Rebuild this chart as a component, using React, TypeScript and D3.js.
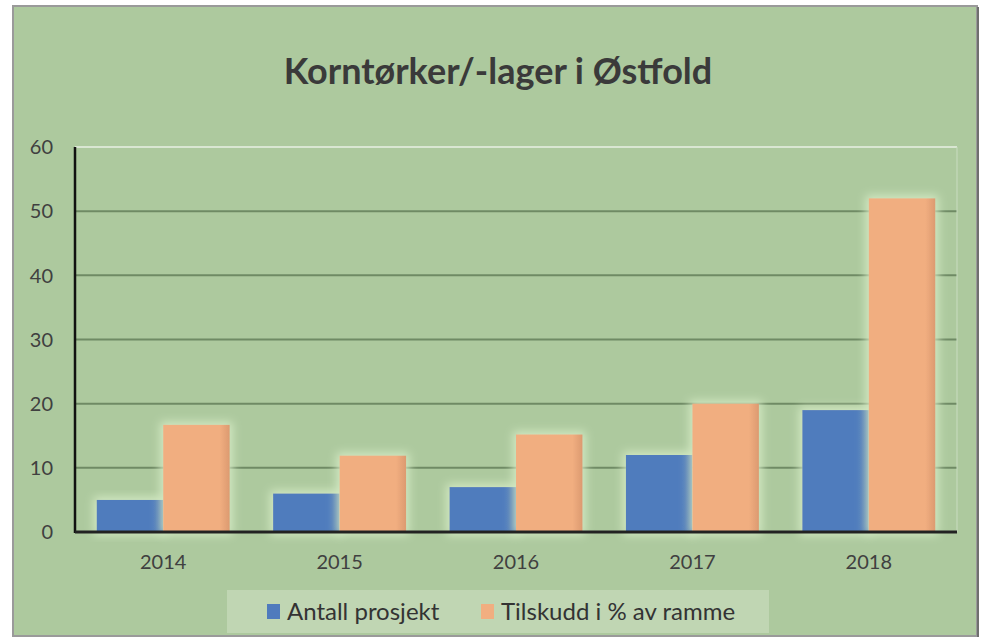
import React from 'react';
import * as d3 from 'd3';

// data
const years = ['2014', '2015', '2016', '2017', '2018'];
const antallProsjekt = [5, 6, 7, 12, 19];
const tilskuddProsent = [16.7, 11.9, 15.2, 20, 52];
const yTicks = [0, 10, 20, 30, 40, 50, 60];
const seriesNames = ['Antall prosjekt', 'Tilskudd i % av ramme'];
const seriesColors = ['#4f7bbd', '#f1ae80'];
const seriesDark = ['#4a74b2', '#dc9a70'];

const W = 984;
const H = 644;
const plot = { left: 75, right: 957, top: 147, bottom: 532 };
const font = 'Lato, "Open Sans", sans-serif';

function App() {
  const x = d3.scaleBand().domain(years).range([plot.left, plot.right]).paddingInner(0.246).paddingOuter(0.123);
  const xs = d3.scaleBand<number>().domain([0, 1]).range([0, x.bandwidth()]);
  const y = d3.scaleLinear().domain([0, 60]).range([plot.bottom, plot.top]);
  const series = [antallProsjekt, tilskuddProsent];

  return (
    <div style={{ position: 'absolute', left: 0, top: 0 }}>
      <svg width={W} height={H} style={{ display: 'block' }}>
        <defs>
          <filter id="glow" x="-30%" y="-30%" width="160%" height="160%">
            <feMorphology in="SourceAlpha" operator="dilate" radius="3" result="d" />
            <feGaussianBlur in="d" stdDeviation="5" result="b" />
            <feFlood floodColor="#d6ecc6" floodOpacity="0.9" />
            <feComposite in2="b" operator="in" result="g" />
            <feMerge>
              <feMergeNode in="g" />
              <feMergeNode in="SourceGraphic" />
            </feMerge>
          </filter>
          {seriesColors.map((c, i) => (
            <linearGradient key={i} id={'grad' + i} x1="0" x2="1" y1="0" y2="0">
              <stop offset="0" stopColor={c} />
              <stop offset="0.85" stopColor={c} />
              <stop offset="1" stopColor={seriesDark[i]} />
            </linearGradient>
          ))}
        </defs>
        <rect x={0} y={0} width={W} height={H} fill="#ffffff" />
        <rect x={13} y={6} width={964} height={630} fill="#adc99e" stroke="#9a9a9a" strokeWidth={2} />
        <line x1={978} y1={7} x2={978} y2={637} stroke="#6f6f6f" strokeWidth={2} />

        <text x={498} y={84} textAnchor="middle" fontFamily={font} fontWeight={700} fontSize={36} fill="#3a3a3a">
          Korntørker/-lager i Østfold
        </text>

        {/* grid */}
        {yTicks.map(t => (
          <line key={t} x1={plot.left} x2={plot.right} y1={y(t)} y2={y(t)}
            stroke={t === 60 ? '#d9e6d2' : '#6f8a64'} strokeWidth={2} />
        ))}
        <line x1={plot.right} x2={plot.right} y1={plot.top} y2={plot.bottom} stroke="#c9dcc0" strokeWidth={1} />
        {yTicks.map(t => (
          <text key={t} x={53} y={y(t)} dy="0.36em" textAnchor="end" fontFamily={font} fontSize={20} fill="#404040">{t}</text>
        ))}

        {/* bars */}
        {years.map((yr, i) => (
          <g key={yr}>
            {series.map((s, j) => (
              <rect key={j} x={(x(yr) as number) + (xs(j) as number)} y={y(s[i])}
                width={xs.bandwidth()} height={plot.bottom - y(s[i])}
                fill={'url(#grad' + j + ')'} filter="url(#glow)" />
            ))}
          </g>
        ))}

        {/* axes */}
        <line x1={plot.left} x2={plot.left} y1={plot.top} y2={plot.bottom + 1} stroke="#111" strokeWidth={2.5} />
        <line x1={plot.left} x2={plot.right} y1={plot.bottom} y2={plot.bottom} stroke="#222" strokeWidth={3} />
        {years.map(yr => (
          <text key={yr} x={(x(yr) as number) + x.bandwidth() / 2} y={569} textAnchor="middle" fontFamily={font} fontSize={20} fill="#404040">{yr}</text>
        ))}

        {/* legend */}
        <rect x={227} y={590} width={542} height={43} fill="#c4d9b8" opacity={0.8} />
        <rect x={267} y={604} width={13} height={15} fill={seriesColors[0]} />
        <text x={287} y={620} fontFamily={font} fontSize={24} fill="#333">{seriesNames[0]}</text>
        <rect x={481} y={604} width={13} height={15} fill={seriesColors[1]} />
        <text x={501} y={620} fontFamily={font} fontSize={24} fill="#333">{seriesNames[1]}</text>
      </svg>
    </div>
  );
}

export default App;
